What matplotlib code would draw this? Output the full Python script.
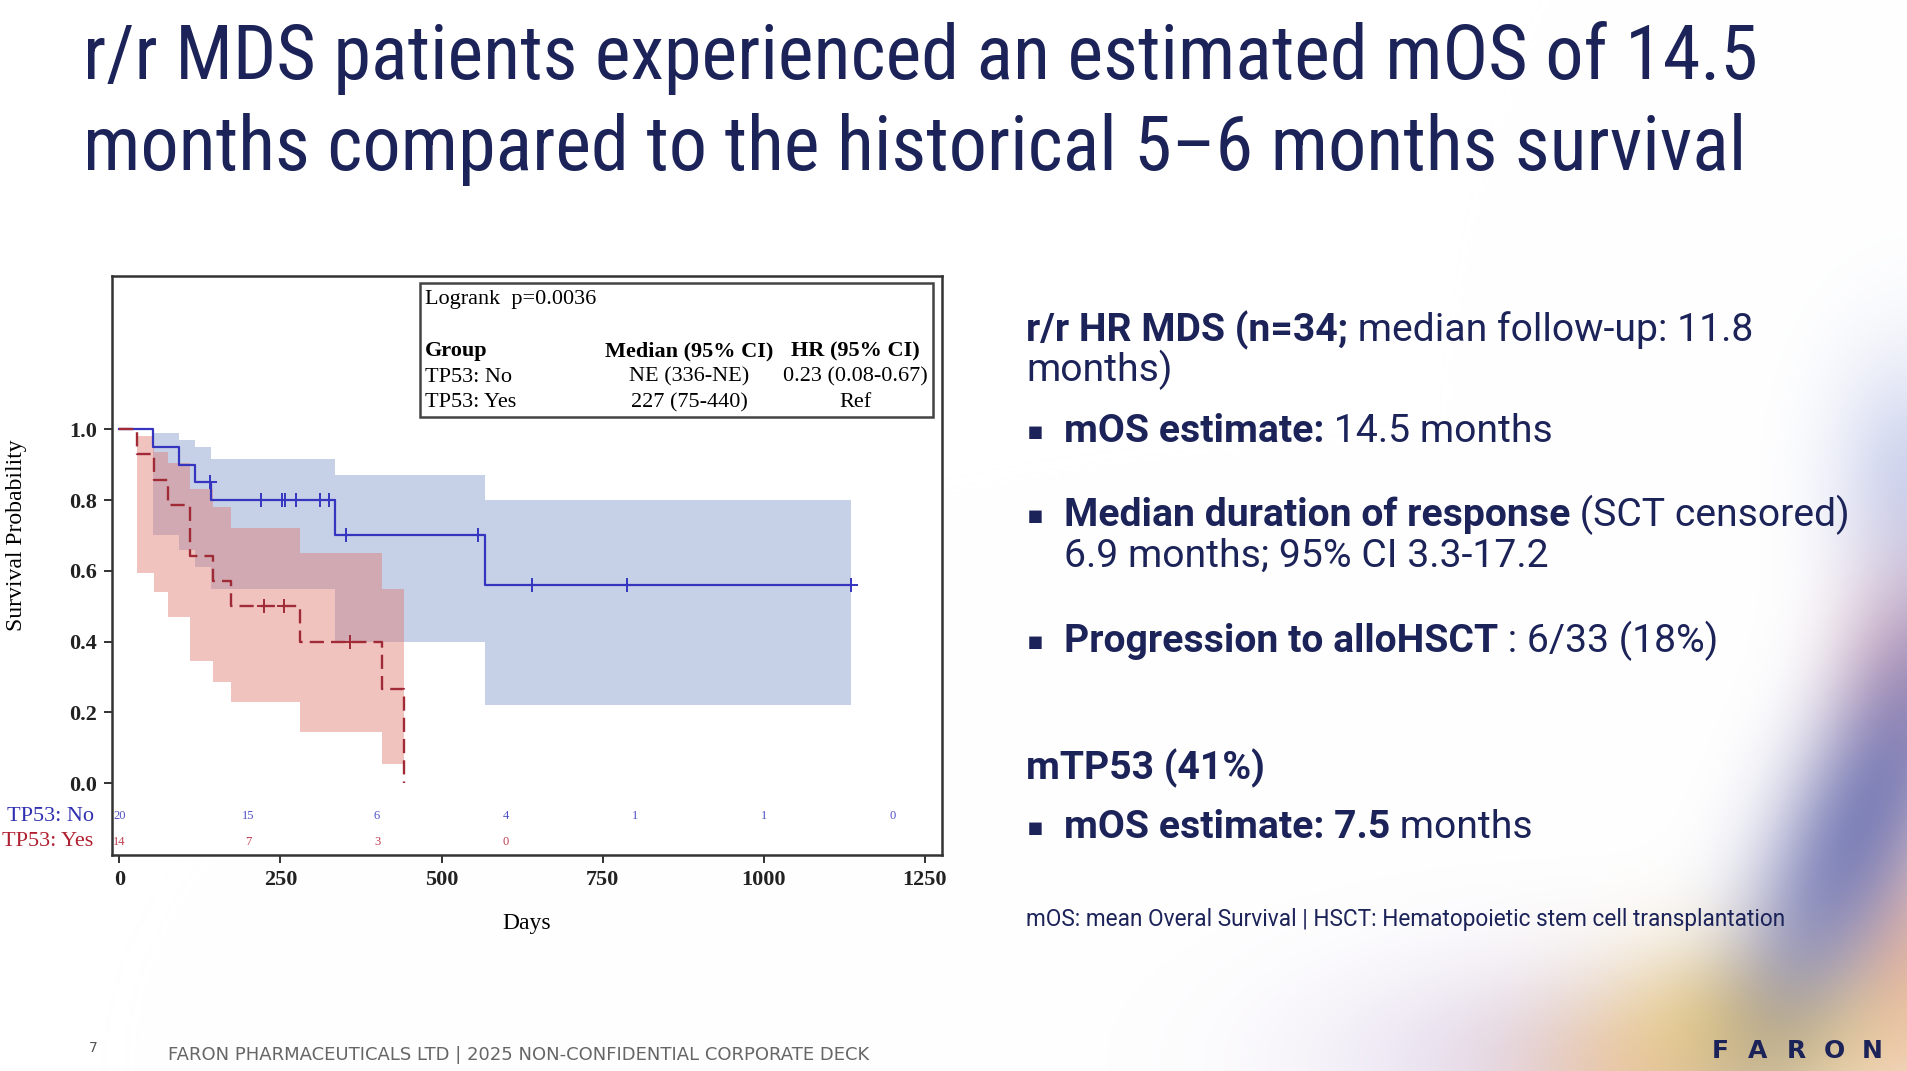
import numpy as np
import matplotlib
matplotlib.use("Agg")
import matplotlib.pyplot as plt
from matplotlib.patches import Rectangle
from matplotlib import font_manager

# --- Kaplan-Meier data (days, survival) ---
no_times = [0, 52, 92, 118, 142, 335, 568]
no_surv = [1.0, 0.95, 0.90, 0.85, 0.80, 0.70, 0.56]
no_end = 1135
no_lower = [1.0, 0.70, 0.66, 0.61, 0.55, 0.40, 0.22]
no_upper = [1.0, 0.99, 0.97, 0.95, 0.915, 0.87, 0.80]
no_censor = [140, 220, 253, 257, 274, 312, 325, 352, 556, 641, 788, 1135]

yes_times = [0, 27, 54, 76, 110, 146, 173, 281, 408, 441]
yes_surv = [1.0, 0.929, 0.857, 0.786, 0.643, 0.571, 0.50, 0.40, 0.267, 0.0]
yes_ci_times = [0, 27, 54, 76, 110, 146, 173, 281, 408]
yes_lower = [1.0, 0.595, 0.54, 0.47, 0.345, 0.285, 0.23, 0.145, 0.055]
yes_upper = [1.0, 0.98, 0.935, 0.905, 0.83, 0.78, 0.72, 0.65, 0.55]
yes_end = 441
yes_censor = [225, 256, 358]

risk_days = [0, 200, 400, 600, 800, 1000, 1200]
risk_no = [20, 15, 6, 4, 1, 1, 0]
risk_yes = [14, 7, 3, 0]

x_ticks = [0, 250, 500, 750, 1000, 1250]
y_ticks = [0.0, 0.2, 0.4, 0.6, 0.8, 1.0]

NAVY = "#1c2359"
BLUE = "#3535c0"
RED = "#a02a36"
W, H = 1908, 1071


def surv_at(times, surv, t):
    idx = np.searchsorted(times, t, side="right") - 1
    return np.asarray(surv)[idx]


installed = {f.name for f in font_manager.fontManager.ttflist}
if "Roboto Condensed" in installed:
    title_font, title_size = "Roboto Condensed", 54.8
elif "Liberation Sans Narrow" in installed:
    title_font, title_size = "Liberation Sans Narrow", 51
else:
    title_font, title_size = "Roboto", 48.5

fig = plt.figure(figsize=(W / 100, H / 100), dpi=100)

# soft colour wash in the lower right corner
bg = fig.add_axes([0, 0, 1, 1], zorder=-10)
gy, gx = np.mgrid[0:H:3, 0:W:3].astype(float)
img = np.ones(gx.shape + (3,))
# colour, centre x, centre y, sigma long, sigma short, angle (deg), strength
blobs = [
    ((205, 190, 225), 1560, 1060, 170, 75, 0, 0.55),
    ((235, 178, 140), 1650, 1075, 95, 55, 0, 0.55),
    ((172, 182, 226), 1908, 480, 90, 55, 90, 0.55),
    ((226, 152, 166), 1908, 690, 85, 50, 90, 0.6),
    ((232, 155, 130), 1908, 960, 110, 65, 90, 0.65),
    ((238, 208, 112), 1755, 1030, 100, 62, 0, 0.85),
    ((95, 105, 175), 1860, 820, 175, 55, 114, 0.78),
]
for col, cx, cy, sl, ss, ang, strength in blobs:
    th = np.deg2rad(ang)
    u = (gx - cx) * np.cos(th) + (gy - cy) * np.sin(th)
    v = -(gx - cx) * np.sin(th) + (gy - cy) * np.cos(th)
    a = strength * np.exp(-(u ** 2) / (2 * sl ** 2) - (v ** 2) / (2 * ss ** 2))
    img = img * (1 - a[..., None]) + (np.array(col) / 255.0) * a[..., None]
bg.imshow(img, extent=[0, 1, 0, 1], aspect="auto", origin="upper")
bg.axis("off")

# --- KM plot ---
ax = fig.add_axes([112 / W, 1 - 855 / H, 830 / W, 579 / H])
ax.set_facecolor("white")

serif = "Liberation Serif"
fs = 16

nt = list(no_times) + [no_end]
ax.fill_between(nt, list(no_lower) + [no_lower[-1]], list(no_upper) + [no_upper[-1]],
                step="post", color="#8fa3d1", alpha=0.5, lw=0)
yt = list(yes_ci_times) + [yes_end]
ax.fill_between(yt, list(yes_lower) + [yes_lower[-1]], list(yes_upper) + [yes_upper[-1]],
                step="post", color="#e07b73", alpha=0.45, lw=0)

ax.step(list(no_times) + [no_end], list(no_surv) + [no_surv[-1]], where="post",
        color=BLUE, lw=1.6)
ax.step(yes_times, yes_surv, where="post", color=RED, lw=1.7, linestyle=(0, (6, 3)))

ax.plot(no_censor, [surv_at(no_times, no_surv, t) for t in no_censor], "+",
        color=BLUE, ms=10, mew=1.4)
ax.plot(yes_censor, [surv_at(yes_times, yes_surv, t) for t in yes_censor], "+",
        color=RED, ms=10, mew=1.4)

ax.set_xlim(-11.3, 1276.4)
ax.set_ylim(-0.203, 1.433)
ax.set_xticks(x_ticks)
ax.set_yticks(y_ticks)
ax.set_yticklabels([f"{v:.1f}" for v in y_ticks])
for lab in ax.get_xticklabels() + ax.get_yticklabels():
    lab.set_fontfamily(serif)
    lab.set_fontweight("bold")
    lab.set_fontsize(fs)
ax.tick_params(direction="out", length=6, width=1.3, pad=5, colors="#222")
for sp in ax.spines.values():
    sp.set_linewidth(1.8)
    sp.set_color("#333")

ax.set_xlabel("Days", family=serif, fontsize=17, labelpad=16)
ax.set_ylabel("Survival Probability", family=serif, fontsize=17)
ax.yaxis.set_label_coords(-0.102, 0.552)

# numbers at risk
ax.text(-40, -0.093, "TP53: No", ha="right", va="center", color="#3030b0",
        family=serif, fontsize=fs, clip_on=False)
ax.text(-40, -0.165, "TP53: Yes", ha="right", va="center", color="#b02030",
        family=serif, fontsize=fs, clip_on=False)
for d, n in zip(risk_days, risk_no):
    ax.text(d, -0.093, str(n), ha="center", va="center", color="#5050c8",
            family=serif, fontsize=9)
for d, n in zip(risk_days, risk_yes):
    ax.text(d, -0.165, str(n), ha="center", va="center", color="#c04050",
            family=serif, fontsize=9)

# inset statistics box
ax.add_patch(Rectangle((466, 1.034), 797, 0.378, fill=False, ec="#444", lw=1.8, zorder=5))
ax.text(474, 1.368, "Logrank  p=0.0036", family=serif, fontsize=fs, va="center")
ax.text(474, 1.22, "Group", family=serif, fontsize=fs, weight="bold", va="center")
ax.text(884, 1.22, "Median (95% CI)", family=serif, fontsize=fs, weight="bold",
        va="center", ha="center")
ax.text(1142, 1.22, "HR (95% CI)", family=serif, fontsize=fs, weight="bold",
        va="center", ha="center")
rows = [("TP53: No", "NE (336-NE)", "0.23 (0.08-0.67)", 1.147),
        ("TP53: Yes", "227 (75-440)", "Ref", 1.075)]
for g, med, hr, yy in rows:
    ax.text(474, yy, g, family=serif, fontsize=fs, va="center")
    ax.text(884, yy, med, family=serif, fontsize=fs, va="center", ha="center")
    ax.text(1142, yy, hr, family=serif, fontsize=fs, va="center", ha="center")

# --- slide text ---
fig.text(83 / W, 1 - 79 / H, "r/r MDS patients experienced an estimated mOS of 14.5",
         family=title_font, fontsize=title_size, color=NAVY, va="baseline")
fig.text(83 / W, 1 - 170 / H, "months compared to the historical 5\u20136 months survival",
         family=title_font, fontsize=title_size, color=NAVY, va="baseline")

renderer = fig.canvas.get_renderer()


def rich(x_px, y_px, parts, size=28.2):
    x = x_px / W
    for txt, bold in parts:
        t = fig.text(x, 1 - y_px / H, txt, family="Roboto", fontsize=size,
                     weight="bold" if bold else "normal", color=NAVY, va="baseline")
        x = t.get_window_extent(renderer).x1 / W


rich(1026, 341, [("r/r HR MDS (n=34;", True), (" median follow-up: 11.8", False)])
rich(1026, 381, [("months)", False)])
bullets = [
    (442, [("mOS estimate:", True), (" 14.5 months", False)]),
    (526, [("Median duration of response", True), (" (SCT censored)", False)]),
    (652, [("Progression to alloHSCT", True), (" : 6/33 (18%)", False)]),
    (838, [("mOS estimate: 7.5", True), (" months", False)]),
]
for yb, parts in bullets:
    fig.text(1027 / W, 1 - (yb - 3) / H, "\u25aa", family="DejaVu Sans", fontsize=18,
             color=NAVY, va="baseline")
    rich(1064, yb, parts)
rich(1064, 567, [("6.9 months; 95% CI 3.3-17.2", False)])
rich(1026, 779, [("mTP53 (41%)", True)])
rich(1026, 926, [("mOS: mean Overal Survival | HSCT: Hematopoietic stem cell transplantation", False)],
     size=16.3)

fig.text(89 / W, 1 - 1052 / H, "7", family="DejaVu Sans", fontsize=10, color="#555")
fig.text(168 / W, 1 - 1060 / H, "FARON PHARMACEUTICALS LTD | 2025 NON-CONFIDENTIAL CORPORATE DECK",
         family="DejaVu Sans", fontsize=13, color="#666")
for i, ch in enumerate("FARON"):
    fig.text((1720 + i * 38) / W, 1 - 1058 / H, ch, family="DejaVu Sans", fontsize=18,
             weight="bold", color=NAVY, ha="center")

fig.savefig("out.png", dpi=100)
